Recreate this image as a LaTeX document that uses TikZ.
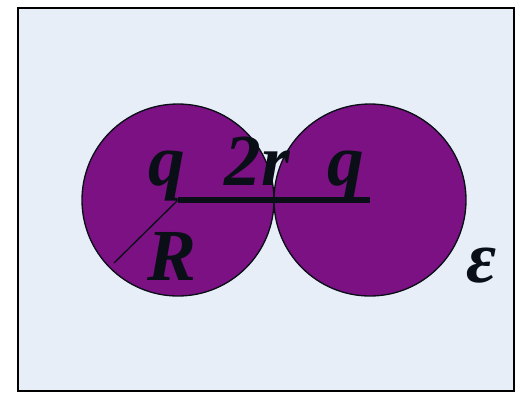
\documentclass[tikz,border=0pt]{standalone}
\usepackage{fontspec}
\setmainfont{Liberation Serif}
\usepackage{tikz}

\definecolor{paper}{RGB}{231,238,247}
\definecolor{ball}{RGB}{123,17,130}
\definecolor{ink}{RGB}{10,15,23}

\tikzset{
    sym/.style={anchor=base, inner sep=0pt, text=ink, font=\fontsize{55}{60}\selectfont\bfseries\itshape},
    sphere/.style={fill=ball, draw=ink, line width=1pt}
}

\begin{document}
\begin{tikzpicture}[x=0.75pt,y=-0.75pt]
    \useasboundingbox (0,0) rectangle (520,394);
    \draw[fill=paper, line width=1.6pt] (18,8) rectangle (514,391);

    \coordinate (cL) at (178,200);
    \coordinate (cR) at (370,200);
    \coordinate (rEnd) at (114,263);

    \draw[sphere] (cL) circle (96);
    \draw[sphere] (cR) circle (96);

    \draw[ink, line width=5pt] (cL) -- (cR);
    \draw[ink, line width=1pt] (cL) -- (rEnd);

    \node[sym] (qL) at (167,185) {q};
    \node[sym] (dist) at (257,185) {2r};
    \node[sym] (qR) at (346,185) {q};
    \node[sym] (rad) at (172,280) {R};
    \node[sym] (eps) at (482,282) {ε};
\end{tikzpicture}
\end{document}
